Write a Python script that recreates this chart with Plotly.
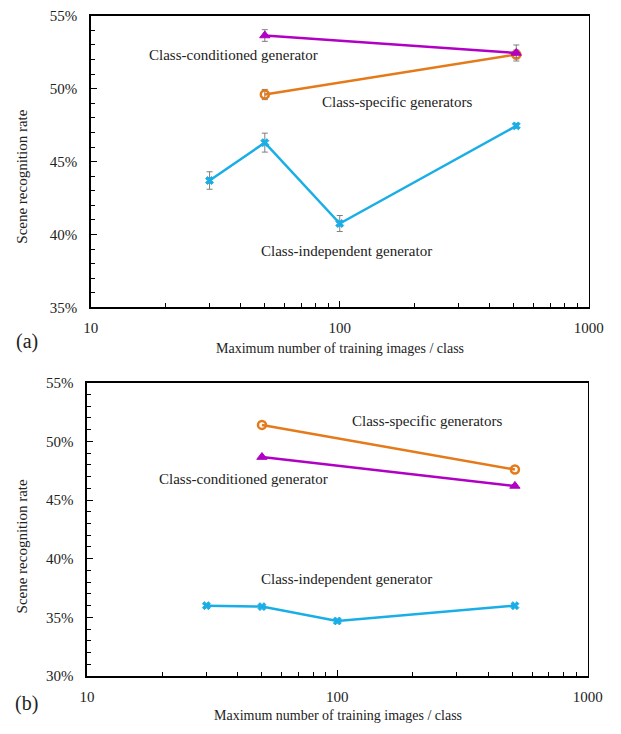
import plotly.graph_objects as go

# ---- data ----
x_cond = [50, 512]
x_spec = [50, 512]
x_ind = [30, 50, 100, 512]

# panel (a)
a_cond = [0.5365, 0.5245]
a_cond_err = [0.0040, 0.0055]
a_spec = [0.4960, 0.5235]
a_spec_err = [0.0035, 0.0030]
a_ind = [0.4370, 0.4630, 0.4075, 0.4745]
a_ind_err = [0.0060, 0.0065, 0.0055, 0.0015]

# panel (b)
b_cond = [0.4866, 0.4620]
b_spec = [0.5140, 0.4760]
b_ind = [0.3600, 0.3592, 0.3470, 0.3600]

yticks_a = [0.35, 0.40, 0.45, 0.50, 0.55]
yticks_b = [0.30, 0.35, 0.40, 0.45, 0.50, 0.55]
xticks = [10, 100, 1000]

PURPLE = "#B000C4"
ORANGE = "#E57A1A"
CYAN = "#1AAEE6"
ERR = "#7f7f7f"
FONT = 'Liberation Serif, "Times New Roman", Times, serif'

fig = go.Figure()

def add_series(x, y, color, symbol, size, xa, ya, err=None, open_=False):
    kw = {}
    if err is not None:
        kw["error_y"] = dict(type="data", array=err, visible=True, color=ERR,
                             thickness=1, width=3)
    fig.add_trace(go.Scatter(
        x=x, y=y, mode="lines+markers", xaxis=xa, yaxis=ya,
        line=dict(color=color, width=2.5),
        marker=dict(symbol=symbol, size=size, color=color,
                    line=dict(color=color, width=2.5 if open_ else 1)),
        showlegend=False, hoverinfo="skip", **kw))

add_series(x_spec, a_spec, ORANGE, "circle-open", 8, "x", "y", a_spec_err, open_=True)
add_series(x_cond, a_cond, PURPLE, "triangle-up", 9, "x", "y", a_cond_err)
add_series(x_ind, a_ind, CYAN, "x", 7, "x", "y", a_ind_err)

add_series(x_spec, b_spec, ORANGE, "circle-open", 8, "x2", "y2", open_=True)
add_series(x_cond, b_cond, PURPLE, "triangle-up", 9, "x2", "y2")
add_series(x_ind, b_ind, CYAN, "x", 7, "x2", "y2")

W, H = 621, 734

def px_x(p):
    return p / W

def px_y(p):
    return 1 - p / H

xaxis_common = dict(
    type="log", range=[1, 3], tickvals=xticks, ticktext=["10", "100", "1000"],
    ticks="inside", ticklen=6, tickcolor="black", showline=True, linecolor="black",
    linewidth=1.5, mirror=True, showgrid=False, zeroline=False,
    ticklabelstandoff=6,
    tickfont=dict(family=FONT, size=15, color="#222"),
    minor=dict(ticks="inside", ticklen=4, tickcolor="black", showgrid=False,
               tickvals=[20, 30, 40, 50, 60, 70, 80, 90, 200, 300, 400, 500, 600, 700, 800, 900]),
)
yaxis_common = dict(
    ticks="inside", ticklen=6, tickcolor="black", showline=True, linecolor="black",
    linewidth=1.5, mirror=True, showgrid=False, zeroline=False, tickformat=".0%",
    ticklabelstandoff=9,
    tickfont=dict(family=FONT, size=15, color="#222"),
    minor=dict(ticks="inside", ticklen=4, tickcolor="black", dtick=0.01, showgrid=False),
)

fig.update_layout(
    width=W, height=H, margin=dict(l=0, r=0, t=0, b=0),
    paper_bgcolor="white", plot_bgcolor="white", hovermode=False,
    xaxis=dict(domain=[px_x(86), px_x(603)], anchor="y", **xaxis_common),
    yaxis=dict(domain=[px_y(306), px_y(8)], anchor="x", range=[0.35, 0.55],
               tickvals=yticks_a, **yaxis_common),
    xaxis2=dict(domain=[px_x(82), px_x(602)], anchor="y2", **xaxis_common),
    yaxis2=dict(domain=[px_y(683), px_y(383)], anchor="x2", range=[0.30, 0.55],
                tickvals=yticks_b, **yaxis_common),
)

def txt(text, x, y, size=15, angle=0):
    fig.add_annotation(text=text, x=px_x(x), y=px_y(y), xref="paper", yref="paper",
                       showarrow=False, textangle=angle,
                       font=dict(family=FONT, size=size, color="#222"),
                       xanchor="center", yanchor="middle")

# series labels
txt("Class-conditioned generator", 234, 48)
txt("Class-specific generators", 404, 96)
txt("Class-independent generator", 352, 248)
txt("Class-specific generators", 436, 422)
txt("Class-conditioned generator", 245, 481)
txt("Class-independent generator", 352, 584)

# axis titles
txt("Maximum number of training images / class", 345, 348, size=14)
txt("Maximum number of training images / class", 343, 723, size=14)
txt("Scene recognition rate", 15, 172, size=15, angle=-90)
txt("Scene recognition rate", 15, 550, size=15, angle=-90)

# panel labels
txt("(a)", 20, 341, size=20)
txt("(b)", 19, 711, size=20)

fig.write_html("out.html", config={"displayModeBar": False, "staticPlot": True},
               post_script="document.body.style.margin='0';document.body.style.padding='0';")
